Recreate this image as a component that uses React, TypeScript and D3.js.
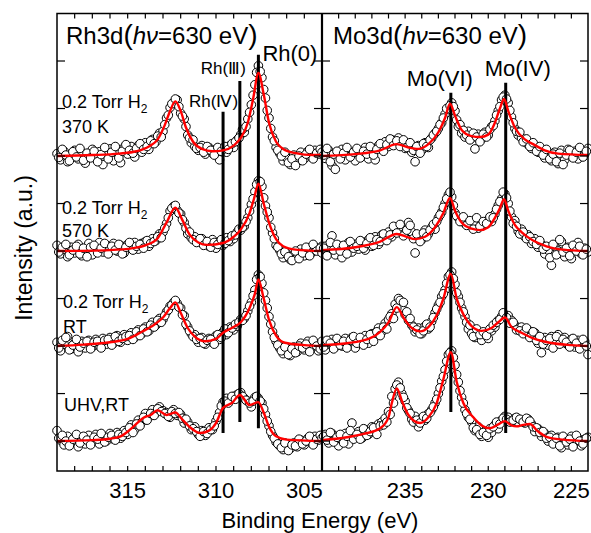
import React from "react";
import * as d3 from "d3";

// energy grids (eV): main scan on 0.2 eV steps, second set offset by 0.1 eV
const leftStart = 319;
const leftEnd = 304;
const rightStart = 240;
const rightEnd = 224;
const stepEV = 0.2;
const halfStep = 0.1;

const leftTicks = [315, 310, 305];
const rightTicks = [235, 230, 225];
const yTicks = [0, 100, 200, 300, 400, 500, 600, 700, 800];

// stack offsets (a.u.), top to bottom
const offsets = [600, 400, 200, 0];
const sampleLabels = [["0.2 Torr H", "370 K"], ["0.2 Torr H", "570 K"], ["0.2 Torr H", "RT"], ["UHV,RT"]];
const hasH2 = [true, true, true, false];

// Rh3d measured points, 319.0 -> 304.0 eV
const rh370 = [5,-8,10,-12,3,12,-6,8,-15,4,14,-4,9,-18,6,15,-10,12,-14,18,4,20,-2,22,8,28,14,35,30,48,52,80,102,112,118,90,78,44,28,20,12,22,4,18,6,14,-8,16,8,22,18,34,45,50,78,108,150,190,165,122,80,40,18,6,-10,-4,-18,2,-12,8,-6,10,-2,12,4,8];
const rh570 = [12,-6,4,-12,8,-4,14,-10,2,16,-8,10,18,-2,12,4,16,0,12,-4,14,6,18,4,16,20,10,26,22,36,40,58,84,94,86,78,60,36,28,30,22,26,18,10,24,6,20,12,28,20,26,40,44,52,70,98,125,148,136,95,70,38,12,2,-14,-6,-18,-8,-14,4,-10,6,-4,8,2,10];
const rhRT = [8,-10,4,20,-6,6,-12,10,-4,12,-2,14,0,16,4,18,6,22,8,24,12,28,18,34,26,40,32,50,44,58,56,72,84,92,90,80,64,40,26,24,8,18,4,16,8,22,14,30,24,40,34,42,56,58,74,92,118,150,132,96,62,30,10,-4,-16,-8,-20,-2,-12,6,-8,10,-4,6,-10,4];
const rhUHV = [22,2,-8,10,-4,8,-12,6,-6,12,-2,14,-6,10,0,16,4,18,6,22,14,34,24,44,40,58,50,66,60,72,64,60,50,66,54,56,38,40,24,30,14,22,12,28,24,42,60,82,90,86,94,98,102,90,84,72,92,90,80,56,32,12,-2,-10,-18,-6,-16,-4,-12,2,-8,6,-4,10,2,8];
// Rh3d measured points, 318.9 -> 304.1 eV
const rh370b = [-3,14,2,-10,9,-2,16,-9,6,-4,10,-12,3,18,-6,8,20,-4,10,24,12,6,16,26,14,20,32,26,42,40,66,86,110,120,104,84,62,38,34,16,18,8,20,12,2,18,10,20,14,26,30,38,56,62,92,128,176,178,140,96,58,32,12,0,8,-14,-6,-20,0,-10,4,14,-6,6,14];
const rh570b = [-2,8,14,-8,2,10,-6,6,-12,8,12,-4,6,16,-6,10,2,14,-6,8,18,2,10,14,6,22,16,20,30,28,48,70,90,96,80,66,48,40,24,18,26,12,20,8,18,14,24,16,22,32,34,46,50,62,84,110,140,146,112,82,50,26,8,-6,-2,-12,-20,0,-16,-4,8,-10,14,0,6];
const rhRTb = [-4,12,18,-8,2,14,-2,6,10,-6,8,10,-4,12,14,2,20,10,16,20,22,14,30,22,36,30,44,40,54,50,64,76,86,96,82,66,46,32,20,14,16,6,12,14,4,24,18,36,28,38,46,50,54,64,84,106,140,146,112,80,46,18,2,-10,-2,-18,-6,-14,0,-4,4,-12,12,0,-6];
const rhUHVb = [6,12,0,-10,4,14,-4,10,2,-8,8,4,16,-2,8,12,2,14,10,18,28,18,36,32,50,44,58,54,68,62,58,52,62,58,60,48,46,32,26,20,10,20,16,24,32,50,74,84,80,94,88,100,94,86,80,84,94,84,68,42,20,6,-6,-14,-4,-20,-8,-10,4,-6,0,10,-8,4,12];

// Mo3d measured points, 240.0 -> 224.0 eV
const mo370 = [8,-5,12,-20,-28,6,14,-8,10,2,-10,12,0,18,-6,10,-8,22,14,30,20,34,28,38,30,16,26,8,-12,22,12,28,18,38,48,58,70,88,98,112,95,62,48,40,52,38,15,46,36,50,44,62,74,95,118,128,112,82,58,44,38,30,24,16,18,8,12,-4,6,-10,8,-16,12,-8,14,2,10,-6,12,4,16];
const mo570 = [-4,10,6,32,-8,12,-14,8,18,-2,14,4,20,2,24,10,30,14,34,26,40,30,50,42,46,38,60,40,-4,32,24,44,36,50,46,70,82,100,118,114,80,70,66,58,62,52,58,48,60,56,66,62,78,96,110,120,100,72,64,42,46,30,34,16,26,8,14,-6,2,-30,10,0,20,-12,8,-16,4,18,-6,6,-2];
const moRT = [10,-8,4,14,-2,12,0,16,4,18,-4,14,8,22,6,26,28,38,30,48,56,68,88,100,82,66,54,44,30,38,26,42,36,52,70,86,104,118,146,156,130,104,80,62,36,26,18,30,12,24,16,32,40,54,62,66,64,54,44,38,40,30,34,22,28,6,-14,18,2,20,10,24,6,18,2,14,-2,12,4,10,-18];
const moUHV = [6,14,-4,16,10,-10,2,16,-6,38,8,20,6,24,14,30,22,36,40,48,62,94,110,124,100,84,64,46,52,30,48,44,58,66,80,100,126,150,182,190,160,124,92,66,50,40,22,30,10,20,8,18,34,26,44,52,50,42,48,40,44,38,46,36,20,26,10,16,0,12,-4,8,-14,4,-8,10,-2,6,-10,4,8];
// Mo3d measured points, 239.9 -> 224.1 eV
const mo370b = [2,16,-12,4,10,-6,6,18,-2,8,16,-4,10,4,20,2,14,26,10,24,36,22,32,20,34,18,28,12,20,6,26,20,34,44,52,66,80,100,106,104,76,66,54,44,34,48,40,30,46,40,56,64,86,104,124,120,96,70,52,50,30,36,20,28,10,20,2,14,-6,4,-12,6,-18,2,12,-4,8,18,-2,10];
const mo570b = [6,-10,18,2,14,0,12,-6,20,6,10,22,6,16,28,12,24,20,36,22,34,52,38,56,32,44,54,26,36,20,38,30,44,56,62,76,92,110,124,96,74,62,72,54,64,46,70,52,62,58,72,70,88,104,124,112,84,58,52,36,40,26,30,20,14,22,4,10,-14,14,-8,24,-2,6,-10,12,0,10,-8,4];
const moRTb = [-2,12,6,-6,16,2,10,-4,12,20,6,18,2,14,24,10,30,22,40,36,62,58,80,96,92,72,58,40,34,26,32,46,40,60,78,92,110,132,150,142,112,92,72,50,44,20,36,24,30,22,36,44,50,56,70,60,48,50,34,32,26,38,18,30,12,20,4,12,16,-4,20,4,14,8,-2,16,6,-6,14,0];
const moUHVb = [10,2,18,-2,8,14,-4,10,22,4,14,4,26,12,20,28,14,32,34,40,56,80,118,112,92,70,58,40,44,38,52,48,60,72,88,112,136,168,186,176,140,106,80,58,46,28,24,14,18,12,26,30,40,36,48,46,40,44,50,46,40,48,42,30,28,18,20,6,8,-6,6,-10,10,-2,4,-12,12,0,-6,6];

// fitted curves [eV, intensity]
const rhFit370 = [[319,0],[317,2],[315.5,5],[314.5,10],[313.8,20],[313.3,35],[312.9,65],[312.6,95],[312.3,115],[312.0,95],[311.7,60],[311.3,30],[310.8,15],[310.2,10],[309.6,12],[309.0,22],[308.6,38],[308.2,70],[307.9,120],[307.6,175],[307.3,130],[307.0,70],[306.6,30],[306.2,15],[305.5,6],[304.5,2],[304,2]];
const rhFit570 = [[319,0],[316,2],[314.7,6],[314.0,12],[313.3,27],[312.8,60],[312.3,91],[311.9,65],[311.5,35],[311.0,18],[310.5,13],[309.6,17],[309.0,30],[308.6,45],[308.1,80],[307.85,110],[307.6,142],[307.3,100],[307.0,60],[306.6,25],[306.2,10],[305.5,3],[304,0]];
const rhFitRT = [[319,0],[317.5,3],[316,8],[315,15],[314.2,30],[313.5,45],[313.0,60],[312.6,80],[312.3,92],[312.0,70],[311.6,38],[311.2,20],[310.6,10],[310.0,15],[309.6,28],[309.0,40],[308.6,50],[308.1,80],[307.8,110],[307.6,140],[307.3,100],[307.0,55],[306.6,22],[306.1,7],[305,2],[304,0]];
const rhFitUHV = [[319,0],[317,2],[316,5],[315.4,10],[314.9,23],[314.4,40],[314.1,49],[313.7,55],[313.3,65],[312.8,55],[312.3,60],[311.9,45],[311.5,30],[310.9,17],[310.4,22],[310.0,38],[309.6,70],[309.1,80],[308.65,97],[308.1,76],[307.6,82],[307.3,60],[307.0,30],[306.6,10],[306.0,3],[304,0]];
const moFit370 = [[240,0],[238,4],[236.5,12],[235.5,25],[234.8,18],[234.2,15],[233.6,25],[233.0,50],[232.6,80],[232.3,110],[232.0,85],[231.6,55],[231.0,42],[230.5,40],[230.0,45],[229.6,70],[229.3,100],[229.05,120],[228.8,95],[228.4,60],[227.8,35],[227.3,25],[226.6,12],[225.8,5],[224,2]];
const moFit570 = [[240,2],[238,8],[236.5,20],[235.5,36],[234.9,30],[234.4,25],[233.8,30],[233.2,50],[232.7,80],[232.3,112],[232.0,85],[231.6,60],[231.0,47],[230.5,44],[230.0,50],[229.6,70],[229.3,90],[229.05,109],[228.8,85],[228.4,55],[228.0,40],[227.3,22],[226.5,10],[225.5,3],[224,0]];
const moFitRT = [[240,2],[238.5,6],[237.2,15],[236.5,30],[236.0,50],[235.5,82],[235.1,60],[234.6,38],[234.1,31],[233.6,40],[233.1,65],[232.7,100],[232.25,152],[231.9,100],[231.5,67],[231.0,42],[230.4,32],[229.8,38],[229.4,50],[229.0,60],[228.6,40],[228.0,28],[227.2,15],[226.3,7],[225,2],[224,0]];
const moFitUHV = [[240,2],[238.5,8],[237.5,15],[236.5,27],[236.0,50],[235.8,80],[235.5,111],[235.2,85],[234.8,55],[234.1,38],[233.6,50],[233.1,80],[232.7,130],[232.25,187],[231.9,125],[231.5,80],[230.9,50],[230.4,33],[229.9,27],[229.4,35],[229.0,42],[228.6,33],[228.3,31],[227.9,34],[227.5,36],[227.0,20],[226.5,9],[225.5,3],[224,0]];

// peak markers: [label, eV, top, bottom] (a.u.)
const rhMarkers = [["Rh(Ⅳ)", 309.6, 693, 17], ["Rh(Ⅲ)", 308.65, 758, 40], ["Rh(0)", 307.6, 813, 27]];
const moMarkers = [["Mo(VI)", 232.25, 733, 61], ["Mo(IV)", 228.95, 754, 17]];

const rhPoints = [rh370, rh570, rhRT, rhUHV];
const rhPointsB = [rh370b, rh570b, rhRTb, rhUHVb];
const moPoints = [mo370, mo570, moRT, moUHV];
const moPointsB = [mo370b, mo570b, moRTb, moUHVb];
const rhFits = [rhFit370, rhFit570, rhFitRT, rhFitUHV];
const moFits = [moFit370, moFit570, moFitRT, moFitUHV];

const FONT = "'Liberation Sans', Arial, Helvetica, sans-serif";

export default function App() {
  const W = 591;
  const H = 533;
  const left = 57, right = 588, top = 13.5, bottom = 471, split = 322;

  const xL = d3.scaleLinear().domain([leftStart, leftEnd]).range([left, split]);
  const xR = d3.scaleLinear().domain([rightStart, rightEnd]).range([split, right]);
  const y = d3.scaleLinear().domain([-63, 900]).range([bottom, top]);

  const gridE = (start, n, shift) => d3.range(0, n).map((i) => start - shift - i * stepEV);
  const leftE = gridE(leftStart, rh370.length, 0);
  const leftEb = gridE(leftStart, rh370b.length, halfStep);
  const rightE = gridE(rightStart, mo370.length, 0);
  const rightEb = gridE(rightStart, mo370b.length, halfStep);

  const lineFor = (x, off) =>
    d3.line().x((d) => x(d[0])).y((d) => y(d[1] + off)).curve(d3.curveMonotoneX);

  const minorL = d3.range(leftEnd + 1, leftStart);
  const minorR = d3.range(rightEnd + 1, rightStart);

  // label placement (px offsets from marker top)
  const rhLabelPos = [
    { dx: 15, dy: -5, anchor: "end", size: 17 },
    { dx: 6, dy: -7, anchor: "end", size: 17 },
    { dx: 4, dy: 6, anchor: "start", size: 22 },
  ];
  const moLabelPos = [
    { dx: -11, dy: -7, anchor: "middle", size: 22 },
    { dx: 12, dy: -7, anchor: "middle", size: 22 },
  ];
  const sampleLayout = [
    { x: 62, ys: [108, 133] },
    { x: 62, ys: [214, 237] },
    { x: 63, ys: [308, 333] },
    { x: 64, ys: [411] },
  ];

  const dots = (vals, es, x, off, key) =>
    vals.map((v, i) => <circle key={key + i} cx={x(es[i])} cy={y(v + off)} r={4.3} />);

  return (
    <svg width={W} height={H} style={{ position: "absolute", left: 0, top: 0, background: "#fff" }} fontFamily={FONT}>
      {/* points */}
      {offsets.map((off, s) => (
        <g key={"p" + s} fill="#fff" stroke="#000" strokeWidth={1}>
          {dots(rhPoints[s], leftE, xL, off, "la")}
          {dots(rhPointsB[s], leftEb, xL, off, "lb")}
          {dots(moPoints[s], rightE, xR, off, "ra")}
          {dots(moPointsB[s], rightEb, xR, off, "rb")}
        </g>
      ))}

      {/* peak markers */}
      {rhMarkers.map((m, i) => (
        <line key={"rm" + i} x1={xL(m[1])} x2={xL(m[1])} y1={y(m[2])} y2={y(m[3])} stroke="#000" strokeWidth={3} />
      ))}
      {moMarkers.map((m, i) => (
        <line key={"mm" + i} x1={xR(m[1])} x2={xR(m[1])} y1={y(m[2])} y2={y(m[3])} stroke="#000" strokeWidth={3} />
      ))}

      {/* fits */}
      {offsets.map((off, s) => (
        <g key={"f" + s} fill="none" stroke="#ff0000" strokeWidth={2.4}>
          <path d={lineFor(xL, off)(rhFits[s])} />
          <path d={lineFor(xR, off)(moFits[s])} />
        </g>
      ))}

      {/* frame */}
      <rect x={left} y={top} width={right - left} height={bottom - top} fill="none" stroke="#000" strokeWidth={1.5} />
      <line x1={split} x2={split} y1={top} y2={bottom} stroke="#000" strokeWidth={2.2} />

      {/* x ticks */}
      {minorL.map((e) => (
        <g key={"tl" + e} stroke="#000" strokeWidth={1.2}>
          <line x1={xL(e)} x2={xL(e)} y1={bottom} y2={bottom - 5} />
          <line x1={xL(e)} x2={xL(e)} y1={top} y2={top + 5} />
        </g>
      ))}
      {minorR.map((e) => (
        <g key={"tr" + e} stroke="#000" strokeWidth={1.2}>
          <line x1={xR(e)} x2={xR(e)} y1={bottom} y2={bottom - 5} />
          <line x1={xR(e)} x2={xR(e)} y1={top} y2={top + 5} />
        </g>
      ))}
      {/* y ticks */}
      {yTicks.map((t) => (
        <g key={"ty" + t} stroke="#000" strokeWidth={1.2}>
          <line x1={left} x2={left + 8} y1={y(t)} y2={y(t)} />
          <line x1={right} x2={right - 8} y1={y(t)} y2={y(t)} />
          <line x1={split - 8} x2={split + 8} y1={y(t)} y2={y(t)} />
        </g>
      ))}

      {/* tick labels */}
      {leftTicks.map((t) => (
        <text key={"ll" + t} x={xL(t)} y={498} fontSize={22} textAnchor="middle">{t}</text>
      ))}
      {rightTicks.map((t) => (
        <text key={"rl" + t} x={xR(t)} y={498} fontSize={22} textAnchor="middle">{t}</text>
      ))}

      {/* axis titles */}
      <text x={320} y={528} fontSize={22} textAnchor="middle">Binding Energy (eV)</text>
      <text transform={`translate(32,${248}) rotate(-90)`} fontSize={23} textAnchor="middle">Intensity (a.u.)</text>

      {/* panel titles */}
      <text x={66} y={44} fontSize={24}>
        Rh3d<tspan fontSize={28}>(</tspan><tspan fontStyle="italic">hν</tspan>=630 eV<tspan fontSize={28}>)</tspan>
      </text>
      <text x={333} y={44} fontSize={24}>
        Mo3d<tspan fontSize={28}>(</tspan><tspan fontStyle="italic">hν</tspan>=630 eV<tspan fontSize={28}>)</tspan>
      </text>

      {/* marker labels */}
      {rhMarkers.map((m, i) => (
        <text key={"rl" + i} x={xL(m[1]) + rhLabelPos[i].dx} y={y(m[2]) + rhLabelPos[i].dy}
          fontSize={rhLabelPos[i].size} textAnchor={rhLabelPos[i].anchor}>{m[0]}</text>
      ))}
      {moMarkers.map((m, i) => (
        <text key={"ml" + i} x={xR(m[1]) + moLabelPos[i].dx} y={y(m[2]) + moLabelPos[i].dy}
          fontSize={moLabelPos[i].size} textAnchor={moLabelPos[i].anchor}>{m[0]}</text>
      ))}

      {/* sample labels */}
      {sampleLabels.map((lines, s) => (
        <g key={"sl" + s}>
          {lines.map((txt, j) => (
            <text key={j} x={sampleLayout[s].x} y={sampleLayout[s].ys[j]} fontSize={18}>
              {txt}
              {j === 0 && hasH2[s] ? <tspan fontSize={12} dy={5}>2</tspan> : null}
            </text>
          ))}
        </g>
      ))}
    </svg>
  );
}
